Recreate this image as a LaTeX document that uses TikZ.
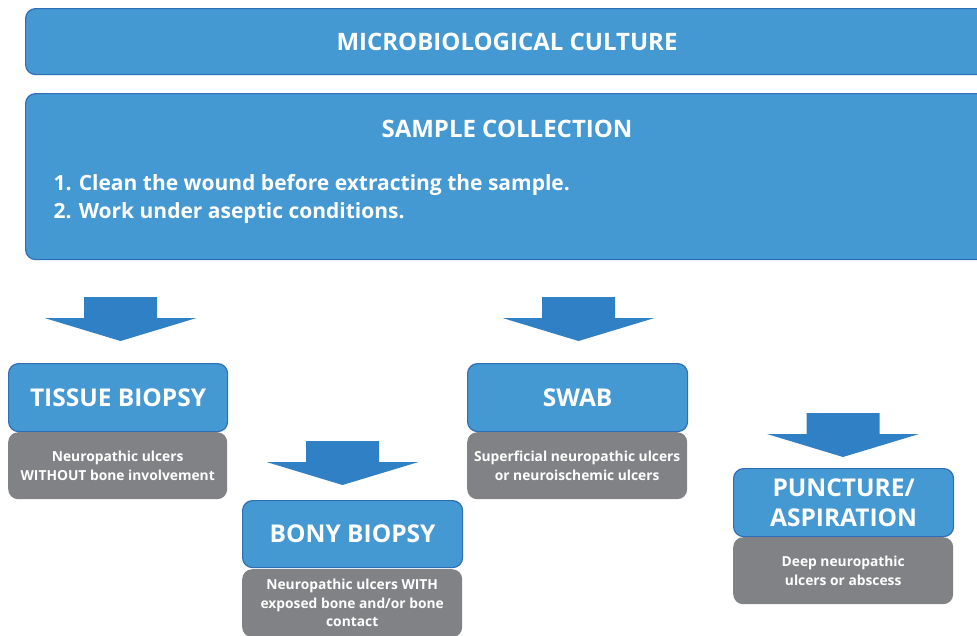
\documentclass[tikz,border=0pt]{standalone}
\usepackage{fontspec}
\setmainfont{Open Sans}
\definecolor{boxblue}{HTML}{4599D3}
\definecolor{boxedge}{HTML}{2F6DB5}
\definecolor{arrowblue}{HTML}{2F80C4}
\definecolor{boxgray}{HTML}{808285}
\tikzset{
  bluebox/.style={draw=boxedge, line width=1.2pt, fill=boxblue, rounded corners=10pt, text=white, font=\bfseries\fontsize{24.5}{30}\selectfont, align=center, inner sep=0pt},
  graybox/.style={draw=none, fill=boxgray, rounded corners=10pt, text=white, font=\bfseries\fontsize{13.8}{18.5}\selectfont, align=center, inner sep=0pt},
  headtext/.style={text=white, font=\bfseries\fontsize{24}{28}\selectfont},
  downarrow/.pic={
    \fill[arrowblue] (-36.5,0) -- (36.5,0) -- (36.5,21) -- (76,21) -- (0,44) -- (-76,21) -- (-36.5,21) -- cycle;
  }
}
\begin{document}
\begin{tikzpicture}[x=1pt,y=-1pt]
\useasboundingbox (0,0) rectangle (977,635);
\clip (0,0) rectangle (977,635);
% top boxes (running past the right edge)
\node[bluebox, minimum width=975, minimum height=66, anchor=north west] (culture) at (25,8) {};
\node[headtext] (culturet) at (507,42) {MICROBIOLOGICAL CULTURE};
\node[bluebox, minimum width=975, minimum height=166, anchor=north west] (sample) at (25,93) {};
\node[headtext] (samplet) at (507,129) {SAMPLE COLLECTION};
\node[text=white, font=\bfseries\fontsize{21}{28}\selectfont, align=left, anchor=west] (samplel) at (50,199)
  {1. Clean the wound before extracting the sample.\\2. Work under aseptic conditions.};
% arrows
\pic at (120.5,297) {downarrow};
\pic at (578.5,297) {downarrow};
\pic at (342.5,441) {downarrow};
\pic at (843,413) {downarrow};
% method boxes
\node[bluebox, minimum width=219, minimum height=68, anchor=north west] (tissue) at (8,363) {TISSUE BIOPSY};
\node[graybox, minimum width=219, minimum height=67, anchor=north west] (tissued) at (8,432) {Neuropathic ulcers\\WITHOUT bone involvement};
\node[bluebox, minimum width=220, minimum height=68, anchor=north west] (swab) at (467,363) {SWAB};
\node[graybox, minimum width=220, minimum height=67, anchor=north west] (swabd) at (467,432) {Superficial neuropathic ulcers\\or neuroischemic ulcers};
\node[bluebox, minimum width=220, minimum height=67, anchor=north west] (bony) at (242,500) {BONY BIOPSY};
\node[graybox, minimum width=220, minimum height=68, anchor=north west] (bonyd) at (242,569) {Neuropathic ulcers WITH\\exposed bone and/or bone\\contact};
\node[bluebox, minimum width=220, minimum height=68, anchor=north west] (punct) at (733,468) {PUNCTURE/\\ASPIRATION};
\node[graybox, minimum width=220, minimum height=67, anchor=north west] (punctd) at (733,537) {Deep neuropathic\\ulcers or abscess};
\end{tikzpicture}
\end{document}
